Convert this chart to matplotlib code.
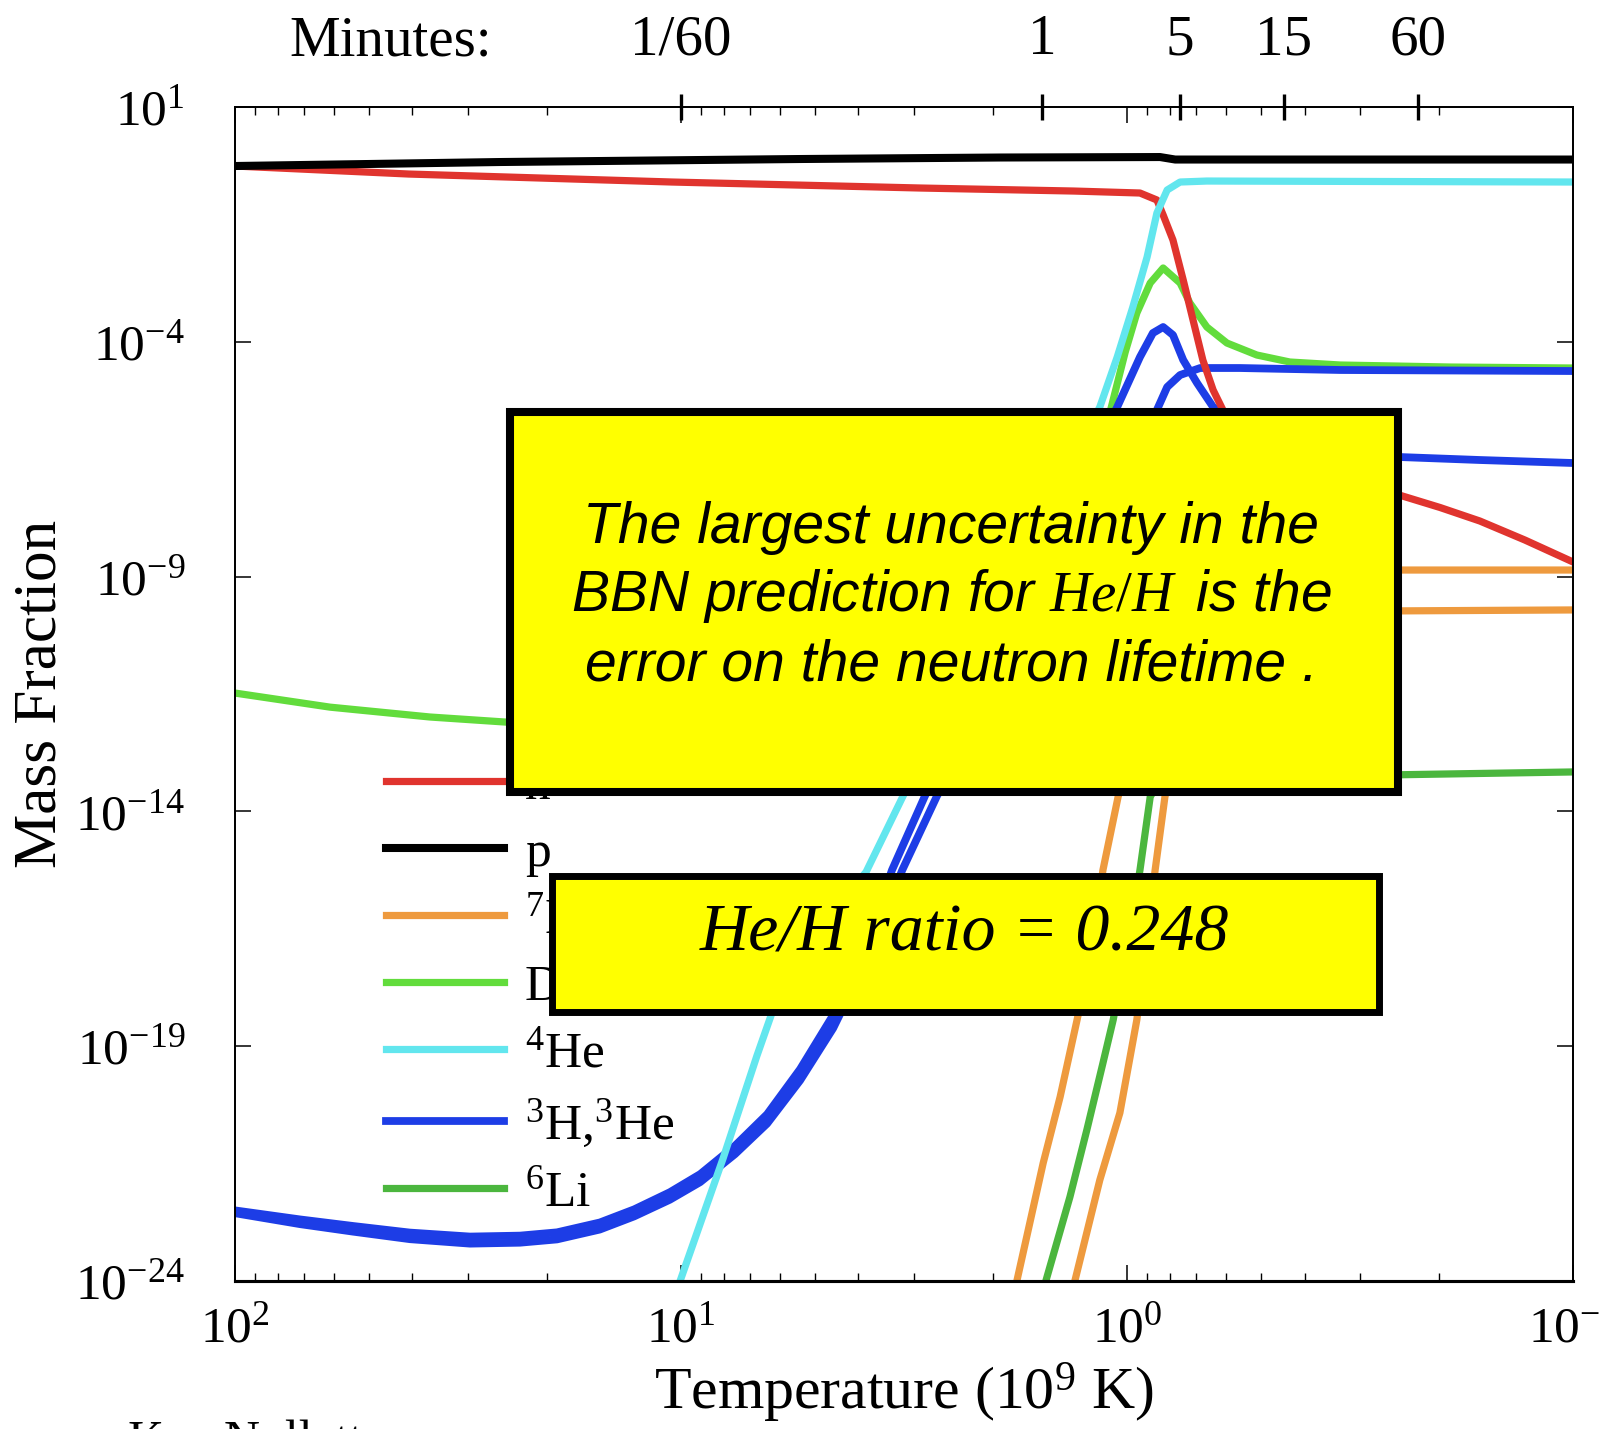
import numpy as np
import matplotlib
matplotlib.use("Agg")
import matplotlib.pyplot as plt
from matplotlib.patches import Rectangle
from matplotlib.ticker import NullLocator

plt.rcParams["font.family"] = ["Liberation Serif", "DejaVu Serif"]
plt.rcParams["mathtext.fontset"] = "custom"
plt.rcParams["mathtext.rm"] = "Liberation Serif"
plt.rcParams["mathtext.it"] = "Liberation Serif:italic"
plt.rcParams["mathtext.bf"] = "Liberation Serif:bold"

# all values are log10 (temperature in 1e9 K, mass fraction)
n_t = [2.000, 1.610, 1.020, 0.462, 0.119, -0.029, -0.067, -0.081, -0.103, -0.126,
       -0.148, -0.170, -0.193, -0.215, -0.276, -0.388, -0.500, -0.610, -0.702, -0.791,
       -0.892, -1.000]
n_x = [-0.256, -0.427, -0.597, -0.725, -0.789, -0.831, -0.980, -1.300, -1.832, -2.684,
       -3.536, -4.388, -5.026, -5.452, -6.091, -6.730, -7.049, -7.262, -7.529, -7.816,
       -8.221, -8.689]

p_t = [2.000, 1.406, 0.733, 0.285, -0.074, -0.108, -1.000]
p_x = [-0.256, -0.171, -0.107, -0.075, -0.065, -0.118, -0.118]

he4_t = [1.002, 0.906, 0.830, 0.796, 0.778, 0.610, 0.585, 0.502, 0.285, 0.061, 0.022,
         -0.013, -0.045, -0.067, -0.090, -0.119, -0.179, -1.000]
he4_x = [-24.0, -21.40, -19.21, -18.29, -17.91, -15.57, -15.29, -13.67, -9.59, -5.388,
         -4.324, -3.259, -2.194, -1.257, -0.767, -0.597, -0.576, -0.597]

d_t = [2.000, 1.787, 1.563, 1.390, 0.957, 0.509, 0.285, 0.173, 0.072, 0.034, 0.004,
       -0.022, -0.052, -0.081, -0.119, -0.141, -0.179, -0.224, -0.291, -0.365, -0.478,
       -0.724, -1.000]
d_x = [-11.48, -11.78, -11.99, -12.10, -12.48, -12.69, -12.48, -10.56, -6.73, -5.346,
       -4.217, -3.387, -2.748, -2.428, -2.748, -3.174, -3.685, -4.026, -4.281, -4.430,
       -4.494, -4.537, -4.558]

band_t = [1.998, 1.854, 1.735, 1.608, 1.473, 1.361, 1.278, 1.182, 1.105, 1.025, 0.957,
          0.879, 0.807, 0.733, 0.659, 0.587]
h3_t = band_t + [0.527, 0.453, 0.240, 0.022, -0.029, -0.058, -0.081, -0.103, -0.126,
                 -0.157, -0.193, -0.276, -0.433, -0.610, -0.791, -1.000]
h3_x = [-22.50, -22.69, -22.83, -22.97, -23.055, -23.035, -22.965, -22.755, -22.475,
        -22.11, -21.725, -21.12, -20.45, -19.49, -18.34, -16.90,
        -15.25, -13.67, -9.58, -5.388, -4.324, -3.813, -3.685, -3.855, -4.388,
        -4.877, -5.388, -5.878, -6.261, -6.453, -6.517, -6.581]
he3_t = band_t + [0.504, 0.426, 0.195, 0.016, -0.052, -0.070, -0.090, -0.119, -0.164,
                  -0.253, -0.478, -1.000]
he3_x = [-22.56, -22.79, -22.95, -23.11, -23.205, -23.185, -23.115, -22.905, -22.625,
         -22.27, -21.895, -21.30, -20.65, -19.73, -18.62, -17.22,
         -15.25, -13.67, -9.58, -6.73, -5.77, -5.388, -4.963, -4.707, -4.558,
         -4.558, -4.600, -4.622]

li7a_t = [0.247, 0.188, 0.150, 0.112, 0.083, 0.054, 0.020, -0.029, -0.085, -0.164,
          -0.298, -0.610, -1.000]
li7a_x = [-24.0, -21.49, -20.08, -18.44, -17.16, -15.25, -13.69, -12.05, -10.35, -9.29,
          -8.90, -8.86, -8.86]
li7b_t = [0.117, 0.061, 0.016, -0.022, -0.043, -0.063, -0.085, -0.119, -0.186, -0.298,
          -0.610, -1.000]
li7b_x = [-24.0, -21.85, -20.42, -18.44, -16.85, -15.25, -13.69, -12.27, -10.78, -9.92,
          -9.73, -9.71]

li6_t = [0.182, 0.128, 0.090, 0.054, 0.031, 0.000, -0.029, -0.052, -0.074, -0.164,
         -0.610, -1.000]
li6_x = [-24.0, -22.21, -20.78, -19.36, -18.44, -16.85, -15.25, -13.69, -13.33, -13.29,
         -13.22, -13.16]

minute_T = [10.0, 1.55, 0.76, 0.445, 0.223]
minute_labels = ["1/60", "1", "5", "15", "60"]
y_ticks = [1e1, 1e-4, 1e-9, 1e-14, 1e-19, 1e-24]


def lg(a):
    return 10.0 ** np.array(a)


fig = plt.figure(figsize=(16.04, 14.29), dpi=100)
ax = fig.add_axes([0.1465, 0.1036, 0.8342, 0.8215])

lw = 5.2
l_li6, = ax.plot(lg(li6_t), lg(li6_x), color="#4bb63e", lw=lw)
l_li7, = ax.plot(lg(li7a_t), lg(li7a_x), color="#ee9a3e", lw=lw)
ax.plot(lg(li7b_t), lg(li7b_x), color="#ee9a3e", lw=lw)
l_d, = ax.plot(lg(d_t), lg(d_x), color="#62dc3c", lw=lw)
l_h3, = ax.plot(lg(h3_t), lg(h3_x), color="#1d3de6", lw=5.6)
ax.plot(lg(he3_t), lg(he3_x), color="#1d3de6", lw=5.6)
l_n, = ax.plot(lg(n_t), lg(n_x), color="#e0342e", lw=lw)
l_he4, = ax.plot(lg(he4_t), lg(he4_x), color="#62e6ee", lw=lw)
l_p, = ax.plot(lg(p_t), lg(p_x), color="black", lw=5.8)

ax.set_xscale("log")
ax.set_yscale("log")
ax.set_xlim(100, 0.1)
ax.set_ylim(1e-24, 1e1)
ax.set_yticks(y_ticks)
ax.yaxis.set_minor_locator(NullLocator())

ax.set_xlabel("Temperature (10$^{9}$ K)", fontsize=43)
ax.xaxis.label.set_va("center")
ax.xaxis.set_label_coords(0.5, -0.095)
ax.set_ylabel("Mass Fraction", fontsize=44)
ax.yaxis.label.set_va("center")
ax.yaxis.set_label_coords(-0.145, 0.5)

for s in ax.spines.values():
    s.set_linewidth(1.3)
ax.spines["bottom"].set_linewidth(2.2)

leg = ax.legend([l_n, l_p, l_li7, l_d, l_he4, l_h3, l_li6],
                ["n", "p", "$^{7}$Li", "D", "$^{4}$He", "$^{3}$H,$^{3}$He", "$^{6}$Li"],
                loc="upper left", bbox_to_anchor=(0.113, 0.4415), frameon=False,
                fontsize=37, handlelength=2.3, handletextpad=0.4, labelspacing=0.39,
                borderpad=0, borderaxespad=0)

# minutes axis on top
ax2 = ax.twiny()
ax2.set_xscale("log")
ax2.set_xlim(100, 0.1)
ax2.set_xticks(minute_T)
ax2.set_xticklabels(minute_labels)
ax2.xaxis.set_minor_locator(NullLocator())
ax2.tick_params(axis="x", which="major", direction="inout", length=19, width=2.4,
                labelsize=41, pad=20)
for s in ax2.spines.values():
    s.set_linewidth(1.3)
ax2.spines["bottom"].set_linewidth(2.2)

ax.tick_params(axis="both", which="major", direction="in", length=11.5, width=1.1,
               labelsize=37, top=True, right=True)
ax.tick_params(axis="x", which="minor", direction="in", length=6, width=1.0, top=True)
ax.tick_params(axis="x", which="major", pad=18)
ax.tick_params(axis="y", which="major", pad=36)

fig.text(391 / 1604, 1 - 41 / 1429, "Minutes:", fontsize=41, ha="center", va="center")

# annotation boxes
box1 = Rectangle((0.318, 0.446), 0.5536, 0.2655, transform=fig.transFigure,
                 facecolor="#ffff00", edgecolor="black", lw=5.8, zorder=10)
box2 = Rectangle((0.344, 0.2915), 0.516, 0.0955, transform=fig.transFigure,
                 facecolor="#ffff00", edgecolor="black", lw=5.0, zorder=10)
fig.add_artist(box1)
fig.add_artist(box2)

sans_it = dict(family="Liberation Sans", style="italic", fontsize=41,
               ha="center", va="center", zorder=11)
fig.text(0.593, 0.6305, "The largest uncertainty in the", **sans_it)
fig.text(0.593, 0.5830, r"BBN prediction for $He/H\,$ is the", **sans_it)
fig.text(0.593, 0.5340, "error on the neutron lifetime .", **sans_it)

fig.text(0.601, 0.3465, "He/H ratio = 0.248", family="Liberation Serif", style="italic",
         fontsize=49, ha="center", va="center", zorder=11)

fig.text(0.08, 0.0063, "Ken Nollett", fontsize=36, ha="left", va="top")

fig.savefig("out.png", dpi=100)
